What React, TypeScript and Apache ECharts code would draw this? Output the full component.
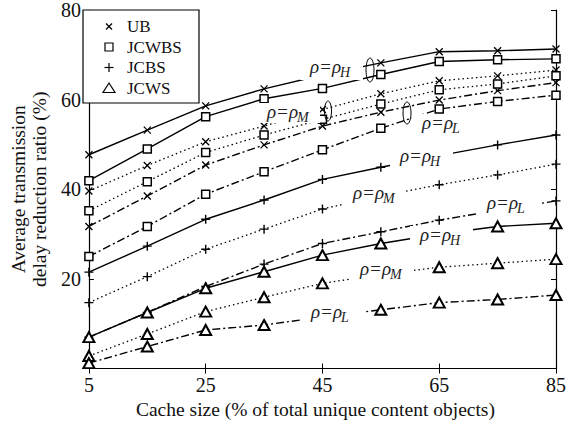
import { useEffect, useRef } from 'react';
import * as echarts from 'echarts';

// ---- data ----
const categories = ['5', '15', '25', '35', '45', '55', '65', '75', '85'];
const legendNames = ['UB', 'JCWBS', 'JCBS', 'JCWS'];
const rhoSubs = ['H', 'M', 'L'];

const ubH = [47.7, 53.2, 58.6, 62.4, 65.5, 68.2, 70.7, 70.9, 71.3];
const ubM = [39.6, 45.3, 50.6, 54.1, 57.8, 61.3, 64.2, 65.3, 66.6];
const ubL = [31.7, 38.5, 45.4, 49.9, 54.1, 57.2, 59.9, 62.0, 63.8];

const jcwbsH = [41.9, 49.0, 56.2, 60.2, 62.5, 65.6, 68.5, 68.9, 69.1];
const jcwbsM = [35.2, 41.7, 48.2, 52.1, 55.6, 59.0, 62.2, 63.5, 65.3];
const jcwbsL = [25.0, 31.7, 38.9, 43.9, 48.8, 53.6, 57.9, 59.6, 61.0];

const jcbsH = [21.5, 27.3, 33.3, 37.6, 42.2, 44.9, 47.5, 49.9, 52.1];
const jcbsM = [14.7, 20.5, 26.6, 31.1, 35.6, 38.5, 41.0, 43.2, 45.6];
const jcbsL = [7.0, 12.5, 18.3, 23.3, 27.9, 30.5, 33.1, 35.3, 37.4];

const jcwsH = [7.0, 12.5, 17.9, 21.6, 25.3, 27.9, 30.0, 31.7, 32.4];
const jcwsM = [2.8, 7.7, 12.7, 15.9, 19.0, 21.0, 22.6, 23.5, 24.4];
const jcwsL = [1.2, 4.9, 8.6, 9.7, 11.5, 13.1, 14.7, 15.4, 16.4];

const xAxisTitle = 'Cache size (% of total unique content objects)';
const yAxisTitle = 'Average transmission\ndelay reduction ratio (%)';

// ---- styles ----
const SERIF = 'Liberation Serif';
const crossPath = 'path://M0,0L10,10M0,10L10,0';
const plusPath = 'path://M5,0L5,10M0,5L10,5';

const methods = [
  { name: legendNames[0], data: [ubH, ubM, ubL], symbol: crossPath, size: 7, fill: '#000', bw: 1.3 },
  { name: legendNames[1], data: [jcwbsH, jcwbsM, jcwbsL], symbol: 'rect', size: 8, fill: '#fff', bw: 1.5 },
  { name: legendNames[2], data: [jcbsH, jcbsM, jcbsL], symbol: plusPath, size: 9, fill: '#000', bw: 1.4 },
  { name: legendNames[3], data: [jcwsH, jcwsM, jcwsL], symbol: 'triangle', size: [11, 10], fill: '#fff', bw: 2 },
];

const lineStyles = [
  { type: 'solid', width: 1.4 },
  { type: [1.5, 3], width: 1.3 },
  { type: [8, 3, 2, 3], width: 1.4 },
];

// annotation placements (pixels)
const legendBox = { x: 83, y: 10, w: 116, h: 93, markerX: 109, textX: 127, rows: [26.5, 47, 67.5, 88] };
const rhoLabels = [
  { sub: rhoSubs[0], x: 310, y: 66 },
  { sub: rhoSubs[1], x: 267, y: 111, h: 20 },
  { sub: rhoSubs[2], x: 422, y: 122 },
  { sub: rhoSubs[0], x: 400, y: 155 },
  { sub: rhoSubs[1], x: 353, y: 192 },
  { sub: rhoSubs[2], x: 487, y: 202 },
  { sub: rhoSubs[0], x: 420, y: 234 },
  { sub: rhoSubs[1], x: 360, y: 268 },
  { sub: rhoSubs[2], x: 311, y: 311 },
];
const ellipses = [
  { cx: 370, cy: 70, rx: 4, ry: 12 },
  { cx: 328, cy: 111, rx: 3.5, ry: 10 },
  { cx: 407, cy: 113, rx: 4, ry: 11 },
];

function legendMarker(i: number, cx: number, cy: number): any[] {
  const st = { stroke: '#000', lineWidth: 1.2, fill: 'none' };
  if (i === 0) {
    const r = 3;
    return [
      { type: 'line', z: 61, shape: { x1: cx - r, y1: cy - r, x2: cx + r, y2: cy + r }, style: st },
      { type: 'line', z: 61, shape: { x1: cx - r, y1: cy + r, x2: cx + r, y2: cy - r }, style: st },
    ];
  }
  if (i === 1) {
    return [{ type: 'rect', z: 61, shape: { x: cx - 4, y: cy - 4, width: 8, height: 8 }, style: { ...st, fill: '#fff' } }];
  }
  if (i === 2) {
    const r = 4.5;
    return [
      { type: 'line', z: 61, shape: { x1: cx - r, y1: cy, x2: cx + r, y2: cy }, style: st },
      { type: 'line', z: 61, shape: { x1: cx, y1: cy - r, x2: cx, y2: cy + r }, style: st },
    ];
  }
  return [{
    type: 'polygon', z: 61,
    shape: { points: [[cx, cy - 5], [cx + 6, cy + 4.5], [cx - 6, cy + 4.5]] },
    style: { ...st, fill: '#fff' },
  }];
}

function buildOption() {
  const series: any[] = [];
  methods.forEach((m) => {
    m.data.forEach((d, i) => {
      series.push({
        type: 'line',
        name: m.name,
        data: d,
        xAxisIndex: 0,
        yAxisIndex: 0,
        symbol: m.symbol,
        symbolSize: m.size,
        showSymbol: true,
        showAllSymbol: true,
        silent: true,
        itemStyle: { color: m.fill, borderColor: '#000', borderWidth: m.bw },
        lineStyle: { color: '#000', ...lineStyles[i] },
        emphasis: { disabled: true },
        z: 2,
      });
    });
  });

  const axisLine = { show: true, lineStyle: { color: '#000', width: 1.2 } };
  const axisTick = { show: true, inside: true, length: 5, lineStyle: { color: '#000', width: 1 } };
  const labelStyle = { fontFamily: SERIF, fontSize: 20, color: '#111' };
  const titleStyle = { fontFamily: SERIF, fontSize: 19.5, color: '#111' };

  const graphic: any[] = [];
  // legend box
  graphic.push({
    type: 'rect', z: 60, silent: true,
    shape: { x: legendBox.x, y: legendBox.y, width: legendBox.w, height: legendBox.h },
    style: { fill: '#fff', stroke: '#000', lineWidth: 1.2 },
  });
  legendNames.forEach((n, i) => {
    const cy = legendBox.rows[i];
    legendMarker(i, legendBox.markerX, cy).forEach((el) => graphic.push({ ...el, silent: true }));
    graphic.push({
      type: 'text', z: 61, silent: true, x: legendBox.textX, y: cy,
      style: { text: n, fontFamily: SERIF, fontSize: 17, fill: '#111', align: 'left', verticalAlign: 'middle' },
    });
  });

  rhoLabels.forEach((l) => {
    graphic.push({
      type: 'group',
      x: l.x,
      y: l.y,
      z: 100,
      silent: true,
      children: [
        { type: 'rect', z: 100, shape: { x: -10, y: -8, width: 63, height: l.h ?? 22 }, style: { fill: '#fff' } },
        {
          type: 'text', z: 101, x: 0, y: 0,
          style: { text: 'ρ=ρ', fontFamily: SERIF, fontStyle: 'italic', fontSize: 19, fill: '#222', align: 'left', verticalAlign: 'middle' },
        },
        {
          type: 'text', z: 101, x: 30, y: 6,
          style: { text: l.sub, fontFamily: SERIF, fontStyle: 'italic', fontSize: 14, fill: '#222', align: 'left', verticalAlign: 'middle' },
        },
      ],
    });
  });
  ellipses.forEach((e) => {
    graphic.push({
      type: 'ellipse', z: 102, silent: true,
      shape: { cx: e.cx, cy: e.cy, rx: e.rx, ry: e.ry },
      style: { fill: 'none', stroke: '#000', lineWidth: 1 },
    });
  });

  return {
    animation: false,
    backgroundColor: '#fff',
    grid: { left: 82, right: 10, top: 10, bottom: 64.5, containLabel: false },
    xAxis: [
      {
        type: 'category',
        data: categories,
        boundaryGap: false,
        position: 'bottom',
        axisLine,
        axisTick: { ...axisTick, interval: 1 },
        axisLabel: { ...labelStyle, interval: 1, margin: 6 },
        splitLine: { show: false },
        name: xAxisTitle,
        nameLocation: 'middle',
        nameGap: 31,
        nameTextStyle: { ...titleStyle, padding: [0, 14, 0, 0] },
      },
      {
        type: 'category',
        data: categories,
        boundaryGap: false,
        position: 'top',
        axisLine,
        axisTick: { ...axisTick, interval: 1 },
        axisLabel: { show: false },
        splitLine: { show: false },
      },
    ],
    yAxis: [
      {
        type: 'value',
        min: 0,
        max: 80,
        interval: 20,
        position: 'left',
        axisLine,
        axisTick,
        axisLabel: { ...labelStyle, margin: 8, showMinLabel: false },
        splitLine: { show: false },
        name: yAxisTitle,
        nameLocation: 'middle',
        nameGap: 22,
        nameTextStyle: { ...titleStyle, lineHeight: 21 },
      },
      {
        type: 'value',
        min: 0,
        max: 80,
        interval: 20,
        position: 'right',
        axisLine,
        axisTick,
        axisLabel: { show: false },
        splitLine: { show: false },
      },
    ],
    series,
    graphic,
  };
}

export default function App() {
  const ref = useRef<HTMLDivElement>(null);
  useEffect(() => {
    document.body.style.margin = '0';
    const chart = echarts.init(ref.current!, null, { renderer: 'svg' });
    chart.setOption(buildOption() as any);
    return () => chart.dispose();
  }, []);
  return (
    <div
      ref={ref}
      style={{ position: 'fixed', left: 0, top: 0, width: 569, height: 433, background: '#fff' }}
    />
  );
}
